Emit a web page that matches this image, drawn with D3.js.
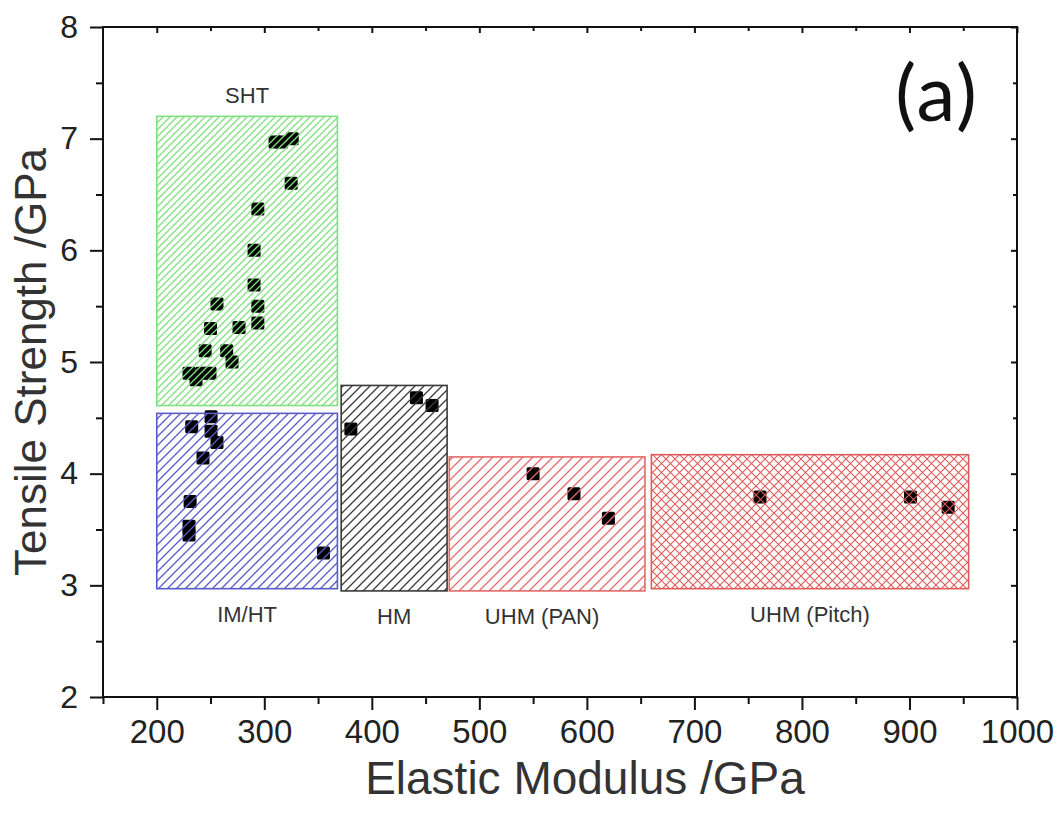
<!DOCTYPE html>
<html>
<head>
<meta charset="utf-8">
<script src="https://cdn.jsdelivr.net/npm/d3@7"></script>
<style>
  html, body { margin: 0; padding: 0; background: #fff; }
  svg { display: block; }
</style>
</head>
<body>
<svg id="chart" width="1064" height="819"></svg>
<script>
// ---------- data ----------
const xTicks = [200, 300, 400, 500, 600, 700, 800, 900, 1000];
const xMinorTicks = [150, 250, 350, 450, 550, 650, 750, 850, 950];
const yTicks = [2, 3, 4, 5, 6, 7, 8];
const yMinorTicks = [2.5, 3.5, 4.5, 5.5, 6.5, 7.5];

const boxNames = ["SHT", "IM/HT", "HM", "UHM (PAN)", "UHM (Pitch)"];
const boxModMin = [200, 200, 371.5, 472, 660];
const boxModMax = [368, 368, 470, 654, 955];
const boxStrMin = [4.61, 2.97, 2.95, 2.95, 2.97];
const boxStrMax = [7.2, 4.54, 4.79, 4.15, 4.17];

const shtMod = [310, 316, 326, 325, 294, 290.5, 290.5, 294, 294, 276.5, 256, 250, 245, 265, 270, 230, 242, 249.5, 236.5];
const shtStr = [6.97, 6.97, 7.0, 6.6, 6.37, 6.0, 5.69, 5.5, 5.35, 5.31, 5.52, 5.3, 5.1, 5.1, 5.0, 4.9, 4.9, 4.9, 4.84];
const imhtMod = [232.5, 250.5, 250.5, 256, 243, 231, 230, 230, 355];
const imhtStr = [4.42, 4.51, 4.38, 4.28, 4.14, 3.75, 3.53, 3.45, 3.29];
const hmMod = [380.5, 441.5, 456];
const hmStr = [4.4, 4.68, 4.61];
const panMod = [550, 588, 620];
const panStr = [4.0, 3.82, 3.6];
const pitchMod = [761, 901, 936];
const pitchStr = [3.79, 3.79, 3.7];

const xTitle = "Elastic Modulus /GPa";
const yTitle = "Tensile Strength /GPa";
const panelLabel = "(a)";

// ---------- styles ----------
const boxStyles = [
  { color: "#7ee07e", pattern: "diag", size: 7, width: 1.3 },
  { color: "#5a5ac8", pattern: "diag", size: 9, width: 1.3 },
  { color: "#3a3a3a", pattern: "diag", size: 9, width: 1.3 },
  { color: "#e46a6a", pattern: "diag", size: 10, width: 1.3 },
  { color: "#e05a5a", pattern: "cross", size: 9, width: 1.1 }
];

// ---------- layout ----------
const W = 1064, H = 819;
const margin = { left: 103, right: 47, top: 27, bottom: 122 };
const svg = d3.select("#chart");

const x = d3.scaleLinear().domain([150, 1000]).range([margin.left, W - margin.right]);
const y = d3.scaleLinear().domain([2, 8]).range([H - margin.bottom, margin.top]);

// patterns
const defs = svg.append("defs");
boxStyles.forEach((s, i) => {
  const p = defs.append("pattern")
    .attr("id", "pat" + i)
    .attr("patternUnits", "userSpaceOnUse")
    .attr("width", s.size).attr("height", s.size);
  const n = s.size;
  p.append("path")
    .attr("d", `M-1,1 l2,-2 M0,${n} l${n},${-n} M${n - 1},${n + 1} l2,-2`)
    .attr("stroke", s.color).attr("stroke-width", s.width).attr("fill", "none");
  if (s.pattern === "cross") {
    p.append("path")
      .attr("d", `M-1,${n - 1} l2,2 M0,0 l${n},${n} M${n - 1},-1 l2,2`)
      .attr("stroke", s.color).attr("stroke-width", s.width).attr("fill", "none");
  }
});

// points (drawn beneath the hatched boxes)
const groups = [
  [shtMod, shtStr], [imhtMod, imhtStr], [hmMod, hmStr], [panMod, panStr], [pitchMod, pitchStr]
];
const msize = 13;
const pts = [];
groups.forEach(([mx, my]) => mx.forEach((v, j) => pts.push([v, my[j]])));
svg.append("g").selectAll("rect").data(pts).enter().append("rect")
  .attr("x", d => x(d[0]) - msize / 2)
  .attr("y", d => y(d[1]) - msize / 2)
  .attr("width", msize).attr("height", msize)
  .attr("rx", 1.5)
  .attr("fill", "#000");

// boxes
const boxes = boxNames.map((n, i) => ({ name: n, x0: boxModMin[i], x1: boxModMax[i], y0: boxStrMin[i], y1: boxStrMax[i], s: boxStyles[i], i }));
svg.append("g").selectAll("rect").data(boxes).enter().append("rect")
  .attr("x", d => x(d.x0))
  .attr("y", d => y(d.y1))
  .attr("width", d => x(d.x1) - x(d.x0))
  .attr("height", d => y(d.y0) - y(d.y1))
  .attr("fill", d => `url(#pat${d.i})`)
  .attr("stroke", d => d.s.color)
  .attr("stroke-width", 1.6);

// box labels
svg.append("g").selectAll("text").data(boxes).enter().append("text")
  .attr("x", d => x((d.x0 + d.x1) / 2) - (d.i === 3 ? 5 : 0))
  .attr("y", d => d.i === 0 ? y(d.y1) - 13 : y(d.y0) + 33)
  .attr("text-anchor", "middle")
  .attr("font-family", "Liberation Sans, Arial, sans-serif")
  .attr("font-size", 22)
  .attr("fill", "#333")
  .text(d => d.name);

// ---------- axes ----------
const axisColor = "#111";
const fontAx = "Liberation Sans, Arial, sans-serif";

function styleAxis(g) {
  g.select(".domain").remove();
  g.selectAll("line").attr("stroke", axisColor).attr("stroke-width", 2);
}

// bottom
const gx = svg.append("g").attr("transform", `translate(0,${y(2)})`)
  .call(d3.axisBottom(x).tickValues(xTicks).tickSize(13).tickPadding(10).tickFormat(d3.format("d")));
styleAxis(gx);
gx.selectAll("text").attr("font-family", fontAx).attr("font-size", 33).attr("fill", "#222");
svg.append("g").attr("transform", `translate(0,${y(2)})`)
  .call(d3.axisBottom(x).tickValues(xMinorTicks).tickSize(7).tickFormat(""))
  .call(styleAxis);

// left
const gy = svg.append("g").attr("transform", `translate(${x(150)},0)`)
  .call(d3.axisLeft(y).tickValues(yTicks).tickSize(13).tickPadding(12).tickFormat(d3.format("d")));
styleAxis(gy);
gy.selectAll("text").attr("font-family", fontAx).attr("font-size", 32).attr("fill", "#222");
svg.append("g").attr("transform", `translate(${x(150)},0)`)
  .call(d3.axisLeft(y).tickValues(yMinorTicks).tickSize(7).tickFormat(""))
  .call(styleAxis);

// top (inward)
svg.append("g").attr("transform", `translate(0,${y(8)})`)
  .call(d3.axisBottom(x).tickValues(xTicks).tickSize(6).tickFormat(""))
  .call(styleAxis);
svg.append("g").attr("transform", `translate(0,${y(8)})`)
  .call(d3.axisBottom(x).tickValues(xMinorTicks.slice(1)).tickSize(4).tickFormat(""))
  .call(styleAxis);
// right (inward)
svg.append("g").attr("transform", `translate(${x(1000)},0)`)
  .call(d3.axisLeft(y).tickValues(yTicks).tickSize(6).tickFormat(""))
  .call(styleAxis);
svg.append("g").attr("transform", `translate(${x(1000)},0)`)
  .call(d3.axisLeft(y).tickValues(yMinorTicks).tickSize(4).tickFormat(""))
  .call(styleAxis);

// frame
svg.append("rect")
  .attr("x", x(150)).attr("y", y(8))
  .attr("width", x(1000) - x(150)).attr("height", y(2) - y(8))
  .attr("fill", "none").attr("stroke", axisColor).attr("stroke-width", 2);

// titles
svg.append("text")
  .attr("x", 585).attr("y", 794)
  .attr("text-anchor", "middle")
  .attr("font-family", fontAx).attr("font-size", 46).attr("fill", "#333")
  .text(xTitle);
svg.append("text")
  .attr("transform", `translate(46,${(y(2) + y(8)) / 2}) rotate(-90)`)
  .attr("text-anchor", "middle")
  .attr("font-family", fontAx).attr("font-size", 44).attr("fill", "#333")
  .text(yTitle);

// panel label
svg.append("text")
  .attr("x", 937).attr("y", 121)
  .attr("text-anchor", "middle")
  .attr("font-family", "Lato, 'Open Sans', sans-serif")
  .attr("font-size", 78).attr("letter-spacing", 2).attr("fill", "#111")
  .text(panelLabel);
</script>
</body>
</html>
